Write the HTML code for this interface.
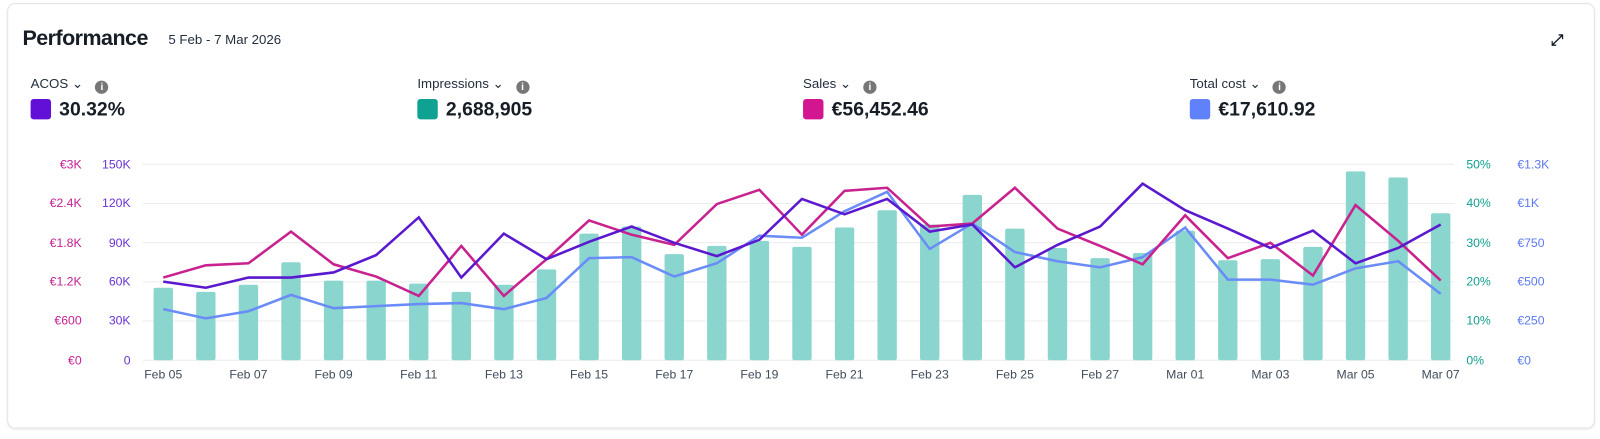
<!DOCTYPE html>
<html><head><meta charset="utf-8"><style>
body{margin:0;background:#fff;width:1600px;height:438px;overflow:hidden;font-family:"Liberation Sans",sans-serif;}
#w{position:absolute;left:0;top:0;width:1568px;height:430px;transform:scale(1.0204);transform-origin:0 0;}
.card{position:absolute;left:7px;top:3px;width:1554px;height:415px;border:1px solid #e3e3e3;border-radius:8px;box-shadow:0 1px 2px rgba(0,0,0,.08);}
.t{position:absolute;left:22px;top:26px;font-size:21px;font-weight:bold;color:#161d26;letter-spacing:-0.5px}
.d{position:absolute;left:165px;top:31px;font-size:13px;color:#232f3e;}
.m{position:absolute;top:74px;font-size:13px;color:#232f3e;}
.m .i{display:inline-block;width:13px;height:13px;border-radius:50%;background:#777;color:#fff;font-size:10px;text-align:center;line-height:13px;font-weight:bold;margin-left:12px;vertical-align:-2px}
.v{position:absolute;top:97px;font-size:19px;font-weight:bold;color:#161d26;}
.v span{display:inline-block;width:20px;height:20px;border-radius:3px;vertical-align:-4px;margin-right:8px}
</style></head><body><div id="w">
<div class="card"></div>
<div class="t">Performance</div><div class="d">5 Feb - 7 Mar 2026</div>
<div style="position:absolute;left:1520px;top:31px;font-size:15px;color:#161d26;font-weight:bold">⤢</div>
<div class="m" style="left:30px">ACOS ⌄<span class="i">i</span></div>
<div class="v" style="left:30px"><span style="background:#6210d8"></span>30.32%</div>
<div class="m" style="left:409px">Impressions ⌄<span class="i">i</span></div>
<div class="v" style="left:409px"><span style="background:#0fa192"></span>2,688,905</div>
<div class="m" style="left:787px">Sales ⌄<span class="i">i</span></div>
<div class="v" style="left:787px"><span style="background:#d3168f"></span>€56,452.46</div>
<div class="m" style="left:1166px">Total cost ⌄<span class="i">i</span></div>
<div class="v" style="left:1166px"><span style="background:#5f82fa"></span>€17,610.92</div>
<svg width="1568" height="430" style="position:absolute;left:0;top:0" font-family="Liberation Sans, sans-serif" font-size="12">
<g stroke="#ececec" stroke-width="1">
<line x1="140" x2="1425" y1="161" y2="161"/><line x1="140" x2="1425" y1="199.4" y2="199.4"/><line x1="140" x2="1425" y1="237.8" y2="237.8"/><line x1="140" x2="1425" y1="276.2" y2="276.2"/><line x1="140" x2="1425" y1="314.6" y2="314.6"/><line x1="140" x2="1425" y1="353" y2="353"/>
</g>
<g fill="#c51f92" text-anchor="end">
<text x="80" y="165">€3K</text><text x="80" y="203">€2.4K</text><text x="80" y="242">€1.8K</text><text x="80" y="280">€1.2K</text><text x="80" y="318">€600</text><text x="80" y="357">€0</text></g>
<g fill="#6a33d6" text-anchor="end">
<text x="128" y="165">150K</text><text x="128" y="203">120K</text><text x="128" y="242">90K</text><text x="128" y="280">60K</text><text x="128" y="318">30K</text><text x="128" y="357">0</text></g>
<g fill="#0f9f8f">
<text x="1437" y="165">50%</text><text x="1437" y="203">40%</text><text x="1437" y="242">30%</text><text x="1437" y="280">20%</text><text x="1437" y="318">10%</text><text x="1437" y="357">0%</text></g>
<g fill="#5d78f0">
<text x="1487" y="165">€1.3K</text><text x="1487" y="203">€1K</text><text x="1487" y="242">€750</text><text x="1487" y="280">€500</text><text x="1487" y="318">€250</text><text x="1487" y="357">€0</text></g>
<g fill="#414d5c" text-anchor="middle" id="xl"></g>
<g id="bars" fill="#8ad6cf"></g>
<polyline id="tc" fill="none" stroke="#6a8cf7" stroke-width="2.5"/>
<polyline id="sa" fill="none" stroke="#c8228f" stroke-width="2.5"/>
<polyline id="ac" fill="none" stroke="#5a19cf" stroke-width="2.5"/>
</svg>
</div>
<script>
const X=i=>160+i*41.73;
const bars=[282,286,279,257,275,275,278,286,279,264,229,222,249,241,236,242,223,206,220,191,224,243,253,248,226,255,254,242,168,174,209];
const ac=[276,282,272,272,267,250,213,272,229,254,237,222,238,251,235,195,210,195,227,220,262,240,222,180,206,224,243,226,258,243,220];
const sa=[272,260,258,227,259,271,290,241,290,254,216,230,240,200,186,230,187,184,222,219,184,224,241,259,211,253,238,270,201,236,275];
const tc=[303,312,305,289,302,300,298,297,303,292,253,252,271,258,231,233,207,188,244,219,247,256,262,252,223,274,274,279,263,256,288];
const ns="http://www.w3.org/2000/svg";
let b=document.getElementById('bars');
bars.forEach((y,i)=>{let r=document.createElementNS(ns,'rect');r.setAttribute('x',X(i)-9.5);r.setAttribute('y',y);r.setAttribute('width',19);r.setAttribute('height',353-y);r.setAttribute('rx',2);b.appendChild(r);});
const pts=a=>a.map((y,i)=>X(i).toFixed(1)+','+y).join(' ');
document.getElementById('ac').setAttribute('points',pts(ac));
document.getElementById('sa').setAttribute('points',pts(sa));
document.getElementById('tc').setAttribute('points',pts(tc));
const labs=['Feb 05','Feb 07','Feb 09','Feb 11','Feb 13','Feb 15','Feb 17','Feb 19','Feb 21','Feb 23','Feb 25','Feb 27','Mar 01','Mar 03','Mar 05','Mar 07'];
let xl=document.getElementById('xl');
labs.forEach((l,k)=>{let t=document.createElementNS(ns,'text');t.setAttribute('x',X(k*2));t.setAttribute('y',371);t.textContent=l;xl.appendChild(t);});
</script>
</body></html>
